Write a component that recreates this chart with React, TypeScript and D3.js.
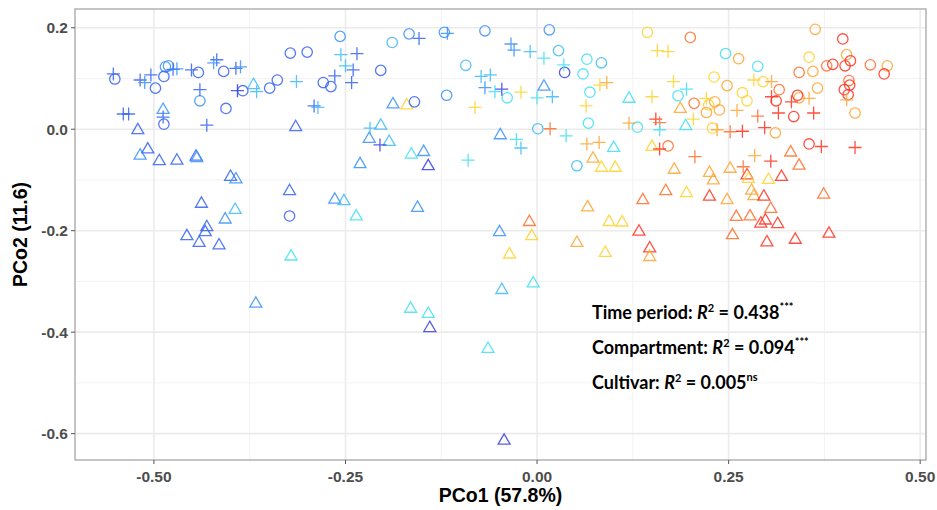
import React from "react";
import * as d3 from "d3";

// Time-period colour scale (1 = earliest, 9 = latest)
const periodColors = ["#3b3fe0", "#3562f2", "#3a92f7", "#3cbcf6", "#3fe0f2", "#ffd22e", "#ffa531", "#ff6e2b", "#ff3120"];

// [PCo1, PCo2, period]
const circlePoints: [number, number, number][] = [
  [-0.551, 0.099, 2], [-0.498, 0.081, 2], [-0.485, 0.123, 3], [-0.481, 0.125, 3], [-0.487, 0.104, 2],
  [-0.442, 0.112, 2], [-0.44, 0.056, 3], [-0.409, 0.114, 2], [-0.406, 0.041, 2], [-0.384, 0.076, 2],
  [-0.487, 0.01, 2], [-0.323, -0.171, 2], [-0.349, 0.081, 2], [-0.339, 0.097, 2], [-0.322, 0.15, 2],
  [-0.3, 0.152, 2], [-0.279, 0.092, 2], [-0.269, 0.084, 2], [-0.257, 0.183, 3], [-0.204, 0.116, 2],
  [-0.189, 0.171, 4], [-0.167, 0.188, 3], [-0.16, 0.054, 2], [-0.121, 0.191, 3], [-0.118, 0.067, 3],
  [-0.093, 0.126, 4], [-0.068, 0.194, 3], [-0.039, 0.062, 5], [0.001, 0.001, 4], [0.016, 0.196, 3],
  [0.028, 0.155, 4], [0.036, 0.112, 1], [0.065, 0.138, 5], [0.084, 0.131, 4], [0.06, 0.109, 5],
  [0.069, 0.073, 5], [0.067, 0.012, 5], [0.052, -0.072, 4], [0.144, 0.191, 6], [0.2, 0.181, 8],
  [0.246, 0.149, 5], [0.263, 0.139, 7], [0.288, 0.124, 5], [0.231, 0.103, 6], [0.248, 0.086, 7],
  [0.184, 0.066, 5], [0.205, 0.051, 8], [0.224, 0.048, 6], [0.232, 0.054, 7], [0.221, 0.033, 7],
  [0.238, 0.038, 7], [0.268, 0.072, 6], [0.274, 0.056, 6], [0.295, 0.094, 6], [0.131, 0.004, 5],
  [0.229, 0.002, 6], [0.311, -0.007, 7], [0.171, -0.033, 8], [0.363, 0.197, 7], [0.399, 0.178, 9],
  [0.355, 0.142, 6], [0.404, 0.147, 7], [0.409, 0.135, 9], [0.378, 0.125, 8], [0.386, 0.128, 9],
  [0.402, 0.125, 9], [0.435, 0.127, 8], [0.457, 0.125, 7], [0.453, 0.109, 9], [0.342, 0.112, 8],
  [0.36, 0.114, 7], [0.407, 0.096, 8], [0.408, 0.087, 9], [0.401, 0.078, 9], [0.406, 0.068, 9],
  [0.415, 0.032, 7], [0.366, 0.081, 7], [0.342, 0.062, 7], [0.34, 0.067, 9], [0.316, 0.078, 8],
  [0.312, 0.056, 9], [0.335, 0.025, 9], [0.355, -0.029, 9],
];

const plusPoints: [number, number, number][] = [
  [-0.553, 0.109, 2], [-0.518, 0.097, 2], [-0.512, 0.092, 3], [-0.504, 0.107, 2], [-0.475, 0.118, 2],
  [-0.47, 0.119, 3], [-0.451, 0.117, 2], [-0.418, 0.137, 2], [-0.422, 0.131, 3], [-0.393, 0.12, 2],
  [-0.387, 0.123, 3], [-0.44, 0.078, 2], [-0.391, 0.076, 1], [-0.366, 0.074, 4], [-0.54, 0.03, 2],
  [-0.533, 0.03, 2], [-0.488, 0.024, 2], [-0.431, 0.008, 2], [-0.314, 0.094, 4], [-0.291, 0.046, 2],
  [-0.286, 0.043, 4], [-0.256, 0.147, 4], [-0.235, 0.149, 2], [-0.25, 0.125, 4], [-0.24, 0.117, 2],
  [-0.264, 0.105, 2], [-0.242, 0.092, 2], [-0.154, 0.179, 2], [-0.218, 0.002, 4], [-0.205, -0.031, 1],
  [-0.117, 0.189, 3], [-0.034, 0.168, 3], [-0.03, 0.156, 3], [-0.009, 0.153, 4], [0.009, 0.14, 5],
  [0.035, 0.127, 5], [-0.073, 0.104, 4], [-0.061, 0.107, 4], [-0.068, 0.082, 3], [-0.055, 0.074, 5],
  [-0.046, 0.079, 1], [-0.021, 0.073, 6], [0.0, 0.062, 5], [0.02, 0.064, 4], [-0.081, 0.043, 6],
  [0.082, 0.087, 6], [0.091, 0.092, 7], [0.064, 0.046, 6], [0.017, 0.001, 8], [0.038, -0.013, 5],
  [-0.027, -0.02, 5], [-0.021, -0.037, 4], [-0.09, -0.061, 5], [0.065, -0.029, 7], [0.081, -0.026, 7],
  [0.157, 0.155, 6], [0.171, 0.153, 6], [0.178, 0.094, 6], [0.195, 0.079, 5], [0.15, 0.064, 6],
  [0.221, 0.061, 6], [0.261, 0.037, 7], [0.283, 0.097, 6], [0.306, 0.094, 7], [0.288, 0.026, 8],
  [0.12, 0.012, 7], [0.155, 0.02, 9], [0.16, 0.013, 8], [0.16, -0.001, 5], [0.204, 0.02, 6],
  [0.235, -0.001, 7], [0.252, -0.005, 8], [0.268, -0.004, 9], [0.297, 0.003, 9], [0.16, -0.039, 9],
  [0.206, -0.054, 8], [0.284, -0.052, 7], [0.305, -0.063, 9], [0.269, -0.074, 8], [0.404, 0.058, 7],
  [0.355, 0.061, 7], [0.332, 0.054, 9], [0.306, 0.064, 9], [0.315, 0.032, 9], [0.361, 0.032, 9],
  [0.371, -0.034, 9], [0.415, -0.036, 9],
];

const trianglePoints: [number, number, number][] = [
  [-0.521, -0.001, 2], [-0.518, -0.051, 3], [-0.508, -0.039, 2], [-0.493, -0.062, 2], [-0.47, -0.061, 2],
  [-0.445, -0.053, 2], [-0.444, -0.056, 3], [-0.4, -0.093, 2], [-0.393, -0.098, 3], [-0.323, -0.121, 2],
  [-0.438, -0.146, 2], [-0.394, -0.158, 4], [-0.407, -0.177, 3], [-0.431, -0.192, 2], [-0.433, -0.202, 2],
  [-0.457, -0.21, 2], [-0.441, -0.223, 2], [-0.415, -0.228, 2], [-0.367, -0.343, 3], [-0.321, -0.25, 5],
  [-0.488, 0.039, 3], [-0.37, 0.088, 4], [-0.315, 0.005, 2], [-0.264, -0.138, 3], [-0.252, -0.141, 4],
  [-0.236, -0.171, 5], [-0.231, -0.068, 3], [-0.219, -0.018, 3], [-0.204, 0.008, 4], [-0.193, -0.024, 4],
  [-0.188, 0.05, 3], [-0.17, 0.048, 6], [-0.164, -0.049, 5], [-0.148, -0.044, 3], [-0.142, -0.072, 1],
  [-0.156, -0.154, 3], [-0.165, -0.353, 5], [-0.142, -0.363, 5], [-0.14, -0.391, 1], [-0.064, -0.432, 5],
  [-0.043, -0.613, 1], [-0.049, -0.202, 3], [-0.046, -0.316, 4], [-0.005, -0.303, 5], [-0.036, -0.246, 6],
  [-0.007, -0.21, 6], [-0.01, -0.182, 8], [-0.048, -0.011, 3], [0.009, 0.085, 3], [0.12, 0.061, 5],
  [0.1, -0.036, 5], [0.073, -0.057, 7], [0.084, -0.075, 6], [0.102, -0.075, 6], [0.066, -0.153, 7],
  [0.052, -0.223, 7], [0.094, -0.182, 6], [0.111, -0.183, 6], [0.089, -0.243, 6], [0.187, 0.041, 7],
  [0.194, 0.007, 5], [0.15, -0.034, 6], [0.179, -0.079, 7], [0.225, -0.085, 7], [0.23, -0.1, 7],
  [0.252, -0.077, 7], [0.274, -0.09, 9], [0.276, -0.097, 6], [0.302, -0.099, 6], [0.319, -0.093, 9],
  [0.331, -0.045, 8], [0.342, -0.071, 8], [0.168, -0.121, 8], [0.195, -0.125, 6], [0.225, -0.132, 9],
  [0.248, -0.139, 7], [0.138, -0.139, 8], [0.28, -0.12, 7], [0.283, -0.131, 7], [0.296, -0.132, 9],
  [0.305, -0.156, 8], [0.374, -0.128, 8], [0.26, -0.172, 8], [0.278, -0.171, 8], [0.292, -0.185, 9],
  [0.298, -0.179, 9], [0.314, -0.186, 9], [0.133, -0.201, 9], [0.255, -0.208, 8], [0.3, -0.222, 9],
  [0.337, -0.217, 9], [0.381, -0.205, 9], [0.147, -0.234, 9], [0.147, -0.251, 7],
];

const xTicks = [-0.5, -0.25, 0, 0.25, 0.5];
const xTickLabels = ["-0.50", "-0.25", "0.00", "0.25", "0.50"];
const yTicks = [0.2, 0, -0.2, -0.4, -0.6];
const yTickLabels = ["0.2", "0.0", "-0.2", "-0.4", "-0.6"];

const stats = [
  { label: "Time period: ", value: "0.438", sig: "***" },
  { label: "Compartment: ", value: "0.094", sig: "***" },
  { label: "Cultivar: ", value: "0.005", sig: "ns" },
];

export default function App() {
  const W = 937, H = 510;
  const left = 75, right = 926, top = 9, bottom = 460;
  const x = d3.scaleLinear().domain([-0.603, 0.5076]).range([left, right]);
  const y = d3.scaleLinear().domain([-0.652, 0.237]).range([bottom, top]);

  const minorX = [-0.375, -0.125, 0.125, 0.375];
  const minorY = [0.1, -0.1, -0.3, -0.5];
  const stroke = 1.3;
  const op = 0.85;
  const col = (p: number) => periodColors[p - 1];
  const tri = d3.symbol().type(d3.symbolTriangle).size(62);

  return (
    <svg width={W} height={H} style={{ position: "absolute", left: 0, top: 0, background: "#fff" }} fontFamily="'Liberation Sans', Arial, sans-serif">
      <rect x={0} y={0} width={W} height={H} fill="#fff" />
      {minorX.map((v, i) => (
        <line key={"mx" + i} x1={x(v)} x2={x(v)} y1={top} y2={bottom} stroke="#f2f2f2" strokeWidth={1} />
      ))}
      {minorY.map((v, i) => (
        <line key={"my" + i} y1={y(v)} y2={y(v)} x1={left} x2={right} stroke="#f2f2f2" strokeWidth={1} />
      ))}
      {xTicks.map((v, i) => (
        <line key={"gx" + i} x1={x(v)} x2={x(v)} y1={top} y2={bottom} stroke="#ebebeb" strokeWidth={1.6} />
      ))}
      {yTicks.map((v, i) => (
        <line key={"gy" + i} y1={y(v)} y2={y(v)} x1={left} x2={right} stroke="#ebebeb" strokeWidth={1.6} />
      ))}

      {trianglePoints.map((d, i) => (
        <path key={"t" + i} d={tri() as string} transform={`translate(${x(d[0])},${y(d[1]) + 0.5})`} fill="none" stroke={col(d[2])} strokeWidth={stroke} strokeOpacity={op} />
      ))}
      {circlePoints.map((d, i) => (
        <circle key={"c" + i} cx={x(d[0])} cy={y(d[1])} r={5.2} fill="none" stroke={col(d[2])} strokeWidth={stroke} strokeOpacity={op} />
      ))}
      {plusPoints.map((d, i) => (
        <path key={"p" + i} d={`M${x(d[0]) - 6.5},${y(d[1])}h13M${x(d[0])},${y(d[1]) - 6.5}v13`} fill="none" stroke={col(d[2])} strokeWidth={stroke} strokeOpacity={op} />
      ))}

      <rect x={left} y={top} width={right - left} height={bottom - top} fill="none" stroke="#a6a6a6" strokeWidth={1.3} />

      {xTicks.map((v, i) => (
        <g key={"xt" + i}>
          <line x1={x(v)} x2={x(v)} y1={bottom} y2={bottom + 4} stroke="#555" strokeWidth={1} />
          <text x={x(v)} y={bottom + 21.5} textAnchor="middle" fontSize={15.5} fontWeight="bold" fill="#4d4d4d">{xTickLabels[i]}</text>
        </g>
      ))}
      {yTicks.map((v, i) => (
        <g key={"yt" + i}>
          <line x1={left - 4} x2={left} y1={y(v)} y2={y(v)} stroke="#555" strokeWidth={1} />
          <text x={left - 7} y={y(v) + 5.5} textAnchor="end" fontSize={15.5} fontWeight="bold" fill="#4d4d4d">{yTickLabels[i]}</text>
        </g>
      ))}

      <text x={(left + right) / 2} y={502} textAnchor="middle" fontSize={19.5} fontWeight="bold" fill="#000">PCo1 (57.8%)</text>
      <text transform={`translate(27,${(top + bottom) / 2}) rotate(-90)`} textAnchor="middle" fontSize={19.5} fontWeight="bold" fill="#000">PCo2 (11.6)</text>

      {stats.map((s, i) => (
        <text key={"s" + i} x={592} y={319 + i * 34.8} fontSize={18} fontWeight="bold" fill="#000" fontFamily="Lato, 'Open Sans', sans-serif">
          {s.label}
          <tspan fontStyle="italic">R</tspan>
          <tspan fontSize={11} dy={-7}>2</tspan>
          <tspan dy={7}>{" = " + s.value}</tspan>
          <tspan fontSize={11} dy={-8}>{s.sig}</tspan>
        </text>
      ))}
    </svg>
  );
}
